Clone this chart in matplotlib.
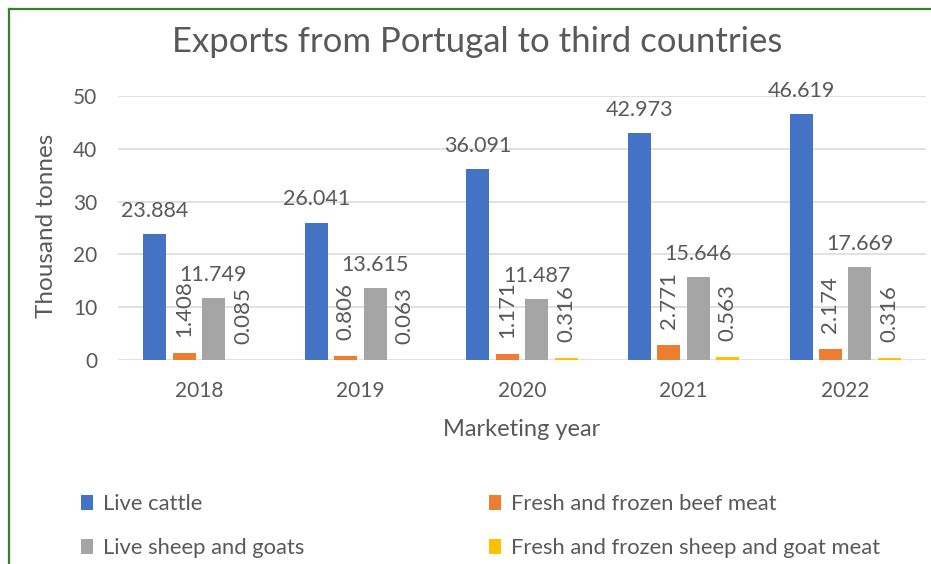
import numpy as np
import matplotlib
matplotlib.use("Agg")
import matplotlib.pyplot as plt
from matplotlib.lines import Line2D

# data
years = ["2018", "2019", "2020", "2021", "2022"]
live_cattle = [23.884, 26.041, 36.091, 42.973, 46.619]
beef_meat = [1.408, 0.806, 1.171, 2.771, 2.174]
live_sheep = [11.749, 13.615, 11.487, 15.646, 17.669]
sheep_meat = [0.085, 0.063, 0.316, 0.563, 0.316]

series_names = ["Live cattle", "Fresh and frozen beef meat",
                "Live sheep and goats", "Fresh and frozen sheep and goat meat"]
colors = ["#4472C4", "#ED7D31", "#A5A5A5", "#FFC000"]

plt.rcParams["font.family"] = ["Lato", "DejaVu Sans"]
TXT = "#595959"

W, H = 931, 564
fig = plt.figure(figsize=(W / 100, H / 100), dpi=100)
ax = fig.add_axes([118 / W, 1 - 360 / H, 808 / W, 264 / H])

x = np.arange(len(years))
step = 0.182
width = 0.142
offsets = np.array([-1.5, -0.5, 0.5, 1.5]) * step
values = [live_cattle, beef_meat, live_sheep, sheep_meat]

containers = []
for vals, off, c, name in zip(values, offsets, colors, series_names):
    bc = ax.bar(x + off, vals, width, color=c, label=name, zorder=3)
    containers.append(bc)

# labels: horizontal for the big series, vertical for the small ones
for i, bc in enumerate(containers):
    if i in (0, 2):
        ax.bar_label(bc, fmt="%.3f", padding=9.5, fontsize=15.5, color=TXT,
                     clip_on=False)
    else:
        ax.bar_label(bc, fmt="%.3f", padding=11.5, fontsize=16, color=TXT,
                     rotation=90, clip_on=False)

ax.set_xlim(-0.5, len(years) - 0.5)
ax.set_ylim(0, 50)
ax.set_yticks([0, 10, 20, 30, 40, 50])
ax.set_xticks(x)
ax.set_xticklabels(years)
ax.grid(axis="y", color="#D9D9D9", linewidth=1.1, zorder=0)
for s in ax.spines.values():
    s.set_visible(False)
ax.tick_params(length=0, labelsize=15, colors=TXT)
ax.tick_params(axis="x", pad=15)
ax.tick_params(axis="y", pad=15)

ax.set_ylabel("Thousand tonnes", fontsize=17.5, color=TXT)
ax.yaxis.label.set_va("center")
ax.yaxis.set_label_coords(-0.0879, 0.5076)
ax.set_xlabel("Marketing year", fontsize=17, color=TXT)
ax.xaxis.label.set_va("center")
ax.xaxis.set_label_coords(0.5, -0.265)

fig.suptitle("Exports from Portugal to third countries", x=477 / W, y=1 - 42 / H,
             va="center", fontsize=25, color=TXT)

handles = [containers[0], containers[2], containers[1], containers[3]]
labels = [series_names[0], series_names[2], series_names[1], series_names[3]]
fig.legend(handles, labels, ncol=2, loc="upper left",
           bbox_to_anchor=(81 / W, 1 - 494 / H), borderaxespad=0,
           borderpad=0, frameon=False, fontsize=15.8, labelcolor=TXT,
           handlelength=0.55, handleheight=0.7, handletextpad=0.45,
           labelspacing=1.1, columnspacing=8.4)

# green frame (top and left edges are visible in the screenshot)
fig.add_artist(Line2D([9 / W, 9 / W], [0, 1 - 9 / H], color="#3A7F2E", lw=1.6,
                      transform=fig.transFigure))
fig.add_artist(Line2D([9 / W, 1], [1 - 9 / H, 1 - 9 / H], color="#3A7F2E", lw=1.6,
                      transform=fig.transFigure))

fig.savefig("out.png", dpi=100)
